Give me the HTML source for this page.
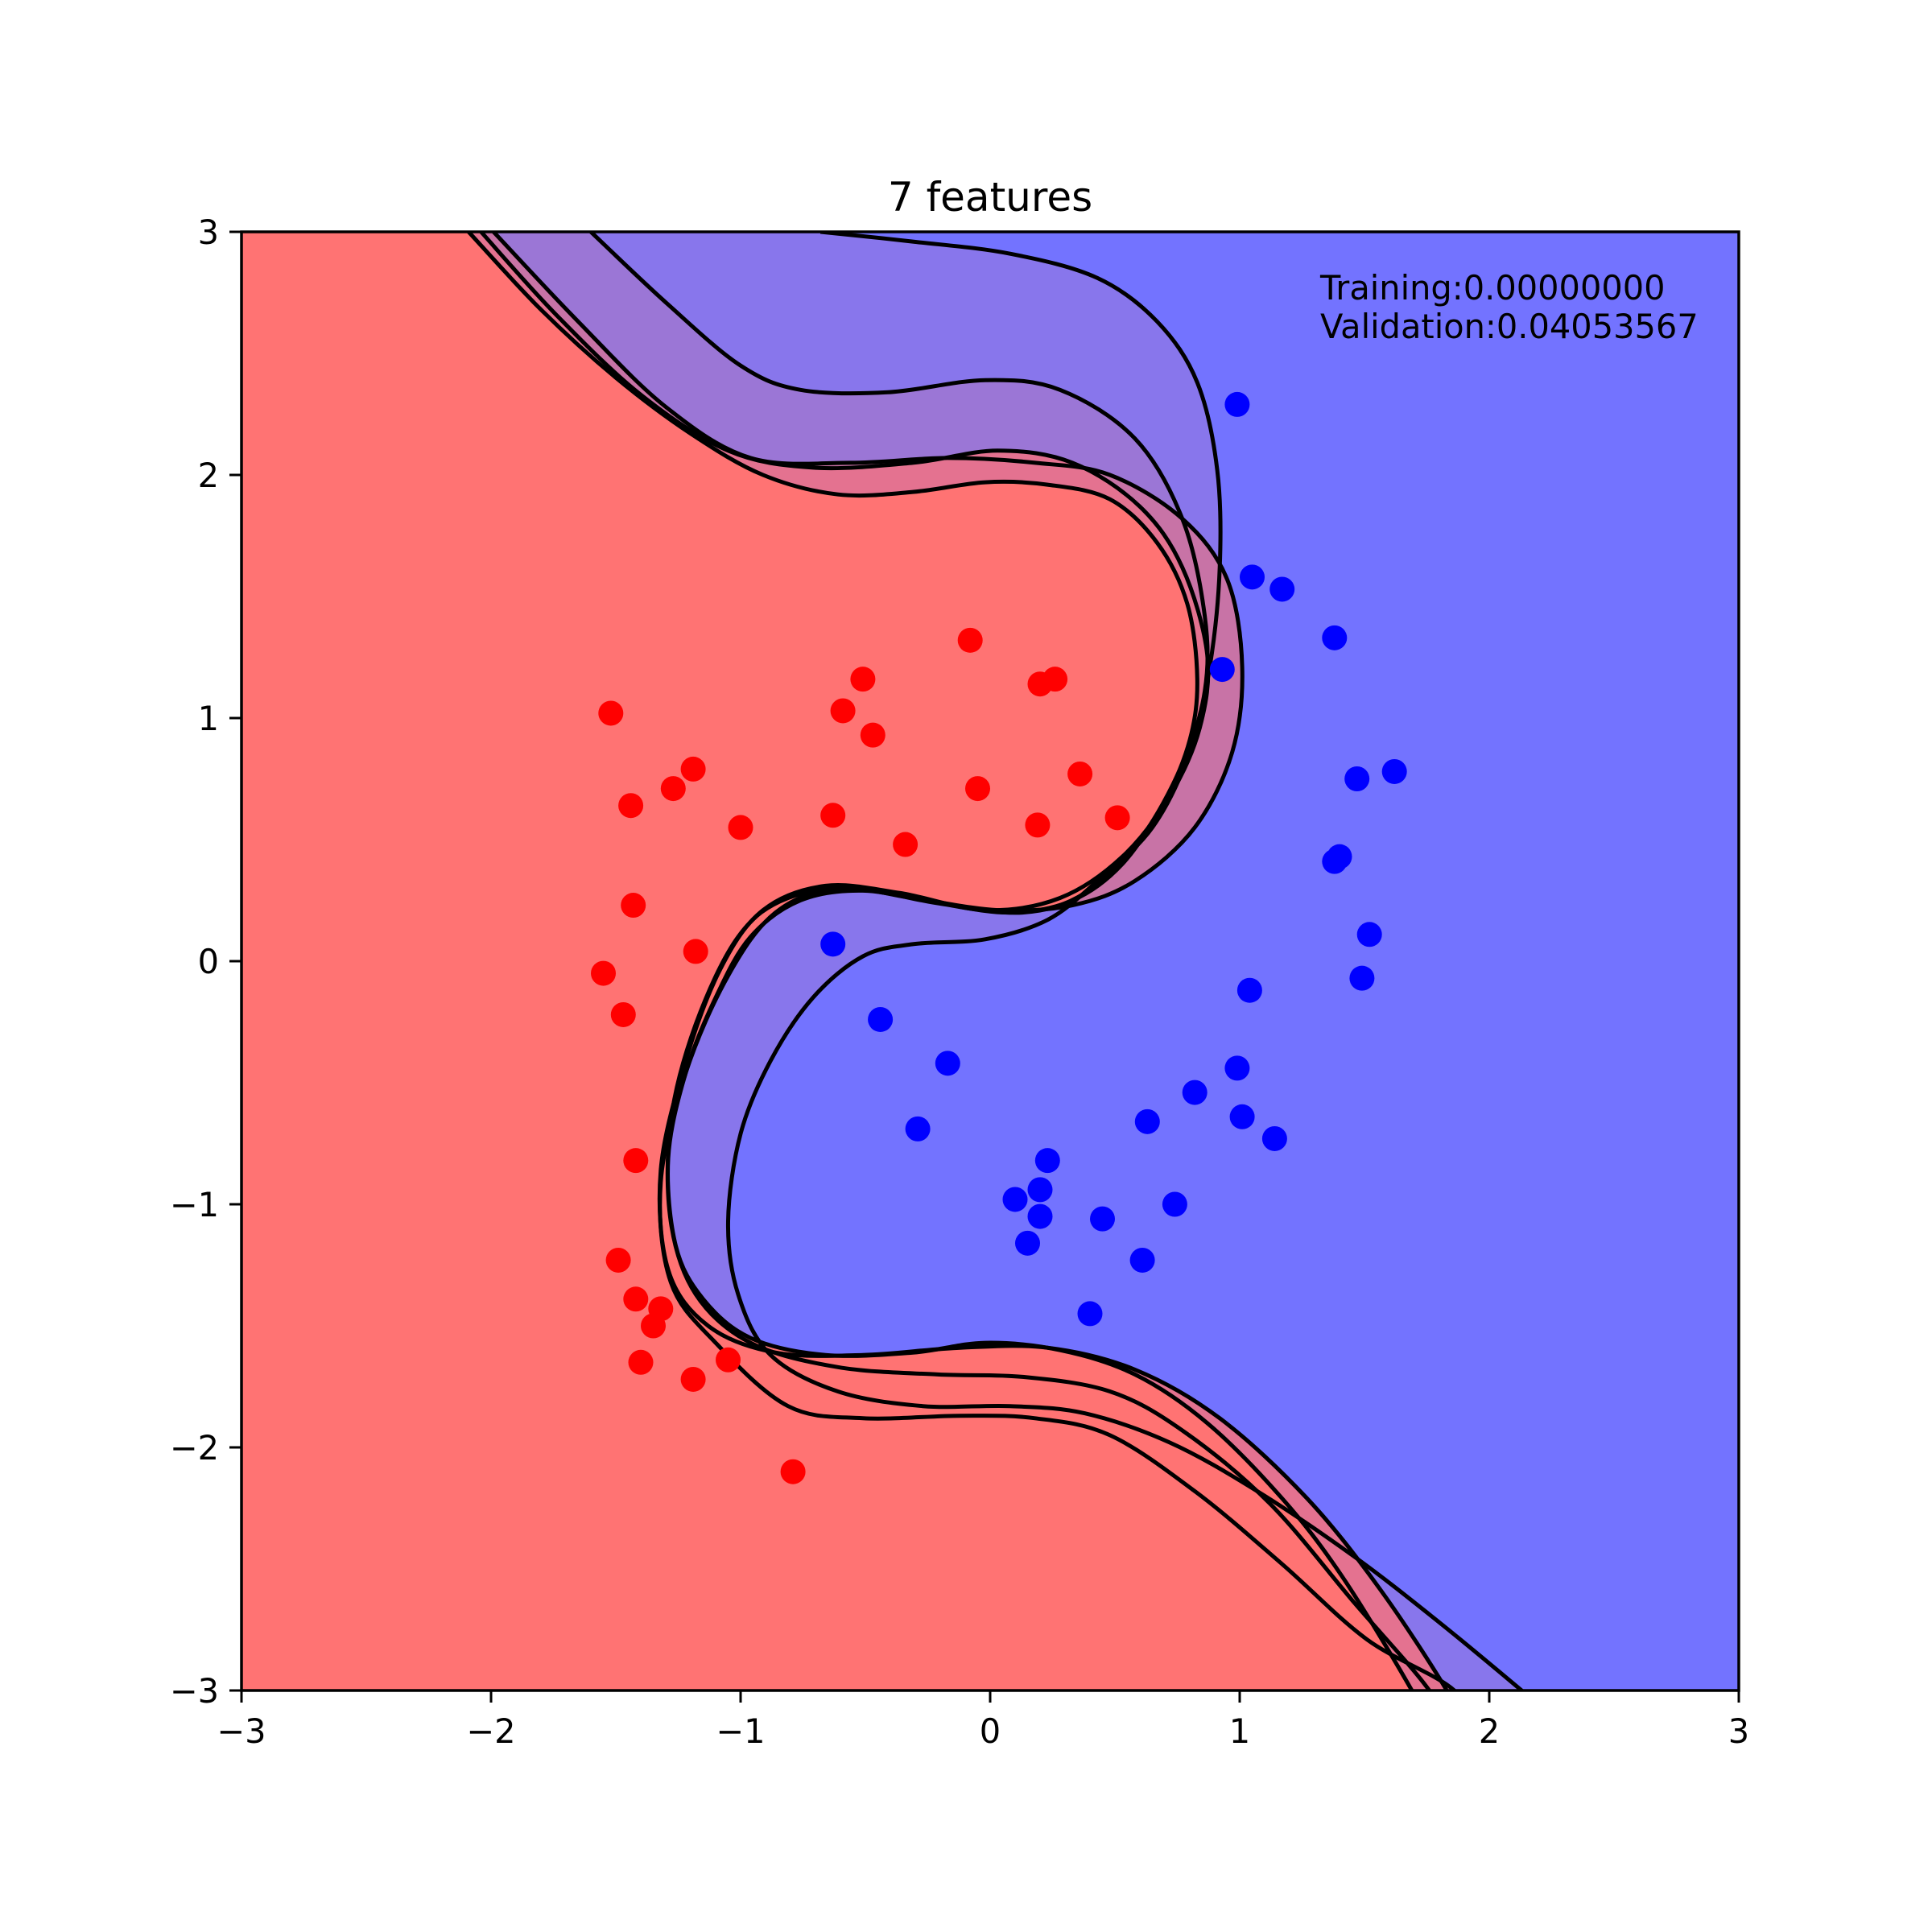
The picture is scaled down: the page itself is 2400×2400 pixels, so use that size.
<!DOCTYPE html>
<html><head><meta charset="utf-8"><style>
html,body{margin:0;padding:0;background:#fff}
svg{display:block}
text{font-family:"DejaVu Sans","Liberation Sans",sans-serif;fill:#000}
</style></head><body>
<svg id="chart" width="2400" height="2400" viewBox="0 0 2400 2400" xmlns="http://www.w3.org/2000/svg">
<rect x="0" y="0" width="2400" height="2400" fill="#fff"/>
<defs><clipPath id="clip"><rect x="300" y="288" width="1860" height="1812"/></clipPath></defs>
<g id="plot" clip-path="url(#clip)"></g>
<g id="axes"></g>
<text x="1230" y="262" font-size="50" text-anchor="middle">7 features</text>
<text x="1640" y="372" font-size="41.5">Training:0.00000000</text>
<text x="1640" y="420" font-size="41.5">Validation:0.04053567</text>
</svg>
<script>
const xTicks=[-3,-2,-1,0,1,2,3];
const yTicks=[-3,-2,-1,0,1,2,3];
const redX=[-1.52,-1.44,-1.27,-1.19,-1.0,-1.43,-1.18,-1.55,-1.47,-1.42,-1.49,-1.42,-1.32,-1.35,-1.40,-1.19,-1.05,-0.79,-0.63,-0.59,-0.51,-0.47,-0.34,-0.08,-0.05,0.20,0.19,0.26,0.36,0.51];
const redY=[1.02,0.64,0.71,0.79,0.55,0.23,0.04,-0.05,-0.22,-0.82,-1.23,-1.39,-1.43,-1.50,-1.65,-1.72,-1.64,-2.10,0.60,1.03,1.16,0.93,0.48,1.32,0.71,1.14,0.56,1.16,0.77,0.59];
const blueX=[0.99,1.05,1.17,1.38,0.93,1.47,1.62,1.38,1.40,1.52,1.49,1.04,0.99,1.01,1.14,0.82,0.63,-0.63,-0.44,-0.17,-0.29,0.23,0.20,0.10,0.20,0.15,0.45,0.74,0.61,0.40];
const blueY=[2.29,1.58,1.53,1.33,1.20,0.75,0.78,0.41,0.43,0.11,-0.07,-0.12,-0.44,-0.64,-0.73,-0.54,-0.66,0.07,-0.24,-0.42,-0.69,-0.82,-0.94,-0.98,-1.05,-1.16,-1.06,-1.00,-1.23,-1.45];
const curveF=[[-0.68,3],[-0.31,2.96],[0.08,2.91],[0.43,2.81],[0.67,2.63],[0.83,2.38],[0.91,2.02],[0.92,1.62],[0.88,1.21],[0.80,0.86],[0.65,0.55],[0.43,0.33],[0.23,0.17],[-0.02,0.09],[-0.31,0.07],[-0.51,0.02],[-0.71,-0.15],[-0.88,-0.41],[-1.00,-0.71],[-1.05,-1.07],[-1.01,-1.37],[-0.88,-1.62],[-0.61,-1.77],[-0.27,-1.83],[0.08,-1.83],[0.38,-1.86],[0.72,-1.98],[1.07,-2.18],[1.46,-2.45],[1.80,-2.72],[2.13,-3],[2.3,-3.15]];
const curveE=[[-1.60,3],[-1.30,2.71],[-1.00,2.45],[-0.76,2.35],[-0.41,2.34],[-0.02,2.39],[0.28,2.35],[0.58,2.15],[0.77,1.82],[0.86,1.42],[0.86,1.11],[0.77,0.81],[0.60,0.50],[0.38,0.28],[0.13,0.20],[-0.21,0.24],[-0.51,0.30],[-0.81,0.26],[-1.01,0.10],[-1.18,-0.26],[-1.28,-0.66],[-1.28,-1.07],[-1.18,-1.37],[-0.96,-1.57],[-0.61,-1.67],[-0.21,-1.70],[0.13,-1.71],[0.48,-1.77],[0.77,-1.93],[1.12,-2.23],[1.46,-2.64],[1.76,-3],[1.85,-3.2]];
const curveD=[[-1.99,3],[-1.65,2.63],[-1.30,2.28],[-0.96,2.07],[-0.56,2.05],[-0.17,2.07],[0.18,2.05],[0.48,2.00],[0.77,1.82],[0.95,1.57],[1.01,1.21],[0.97,0.86],[0.82,0.55],[0.58,0.33],[0.33,0.23],[0.03,0.21],[-0.31,0.26],[-0.61,0.30],[-0.86,0.20],[-1.05,-0.06],[-1.22,-0.46],[-1.32,-0.91],[-1.28,-1.32],[-1.10,-1.57],[-0.81,-1.83],[-0.51,-1.88],[-0.12,-1.87],[0.18,-1.88],[0.48,-1.95],[0.82,-2.18],[1.17,-2.48],[1.51,-2.79],[1.86,-3],[1.95,-3.2]];
const curveB=[[-2.04,3],[-1.74,2.66],[-1.40,2.33],[-1.05,2.10],[-0.71,2.03],[-0.31,2.05],[0.03,2.10],[0.33,2.05],[0.60,1.87],[0.77,1.62],[0.87,1.26],[0.84,0.96],[0.72,0.68],[0.53,0.43],[0.28,0.26],[-0.02,0.21],[-0.36,0.28],[-0.66,0.31],[-0.91,0.21],[-1.08,-0.03],[-1.22,-0.41],[-1.32,-0.86],[-1.29,-1.27],[-1.13,-1.50],[-0.86,-1.61],[-0.51,-1.62],[-0.12,-1.59],[0.23,-1.59],[0.58,-1.68],[0.92,-1.88],[1.27,-2.21],[1.56,-2.58],[1.83,-3],[1.92,-3.2]];
const curveA=[[-2.09,3],[-1.80,2.68],[-1.50,2.40],[-1.20,2.17],[-0.91,2.00],[-0.61,1.92],[-0.31,1.93],[-0.02,1.97],[0.23,1.96],[0.48,1.90],[0.67,1.72],[0.79,1.47],[0.83,1.16],[0.80,0.91],[0.70,0.66],[0.53,0.40],[0.33,0.25],[0.08,0.20],[-0.22,0.24],[-0.51,0.29],[-0.76,0.25],[-0.96,0.10],[-1.10,-0.15],[-1.22,-0.46],[-1.29,-0.81],[-1.26,-1.17],[-1.15,-1.39],[-0.96,-1.55],[-0.66,-1.62],[-0.31,-1.61],[-0.02,-1.57],[0.28,-1.60],[0.58,-1.70],[0.87,-1.90],[1.17,-2.21],[1.41,-2.53],[1.69,-3],[1.78,-3.2]];
const curves=[curveF,curveE,curveD,curveB,curveA];
const fills=["#8876ec","#9b76d6","#c873a6","#e47290","#ff7373"];

const NS="http://www.w3.org/2000/svg";
function sx(x){return 300+(x+3)*310;}
function sy(y){return 288+(3-y)*302;}
function smooth(pts){
  const p=pts.map(q=>[sx(q[0]),sy(q[1])]);
  let d="M"+p[0][0].toFixed(1)+","+p[0][1].toFixed(1);
  for(let i=0;i<p.length-1;i++){
    const p0=p[Math.max(0,i-1)],p1=p[i],p2=p[i+1],p3=p[Math.min(p.length-1,i+2)];
    const c1=[p1[0]+(p2[0]-p0[0])/6,p1[1]+(p2[1]-p0[1])/6];
    const c2=[p2[0]-(p3[0]-p1[0])/6,p2[1]-(p3[1]-p1[1])/6];
    d+=" C"+c1[0].toFixed(1)+","+c1[1].toFixed(1)+" "+c2[0].toFixed(1)+","+c2[1].toFixed(1)+" "+p2[0].toFixed(1)+","+p2[1].toFixed(1);
  }
  return d;
}
const plot=document.getElementById('plot');
const axes=document.getElementById('axes');
function mk(tag,attrs,parent){const e=document.createElementNS(NS,tag);for(const k in attrs)e.setAttribute(k,attrs[k]);parent.appendChild(e);return e;}

const bg=mk('rect',{x:300,y:288,width:1860,height:1812,fill:'#7373ff'},plot);



curves.forEach((c,i)=>{
  const d=smooth(c)+" L"+sx(-3.2)+","+sy(-3.2)+" L"+sx(-3.2)+","+sy(3.2)+" L"+sx(c[0][0])+","+sy(3.2)+" Z";
  const f=mk('path',{d:d,fill:fills[i],stroke:'none'},plot);
  
  
});
curves.forEach((c,i)=>{
  const l=mk('path',{d:smooth(c),fill:'none',stroke:'#000','stroke-width':5},plot);
  
  
});
redX.forEach((x,i)=>{
  const c=mk('circle',{cx:sx(x),cy:sy(redY[i]),r:15.5,fill:'#ff0000'},plot);
  
  
});
blueX.forEach((x,i)=>{
  const c=mk('circle',{cx:sx(x),cy:sy(blueY[i]),r:15.5,fill:'#0000ff'},plot);
  
  
});

const frame=mk('rect',{x:300,y:288,width:1860,height:1812,fill:'none',stroke:'#000','stroke-width':3.5},axes);


xTicks.forEach(t=>{
  const x=sx(t);
  const tk=mk('line',{x1:x,y1:2100,x2:x,y2:2115,stroke:'#000','stroke-width':3},axes);
  
  
  const lb=mk('text',{x:x,y:2165,'font-size':41.5,'text-anchor':'middle'},axes);
  lb.textContent=(t<0?"\u2212"+(-t):""+t);
  
  
});
yTicks.forEach(t=>{
  const y=sy(t);
  const tk=mk('line',{x1:285,y1:y,x2:300,y2:y,stroke:'#000','stroke-width':3},axes);
  
  
  const lb=mk('text',{x:272,y:y+15,'font-size':41.5,'text-anchor':'end'},axes);
  lb.textContent=(t<0?"\u2212"+(-t):""+t);
  
  
});
</script>
</body></html>
